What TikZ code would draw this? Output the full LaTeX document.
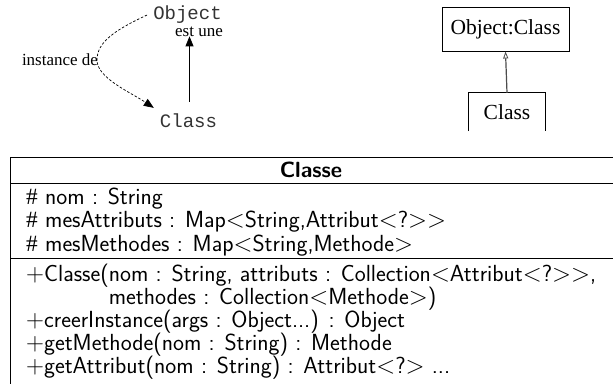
\documentclass[tikz,border=0pt]{standalone}
\usepackage{graphicx}
\usepackage{fontspec}
\setmainfont{Liberation Serif}
\newfontfamily\cour{Liberation Mono}
\usetikzlibrary{arrows.meta}
\tikzset{
  cour/.style={font=\fontsize{19}{22}\cour, text=black!80, inner sep=6pt},
  times/.style={font=\fontsize{17}{20}\selectfont, inner sep=0pt, anchor=base},
  umlbox/.style={draw, line width=0.9pt, font=\fontsize{21.5}{24}\selectfont, inner sep=0pt},
  row/.style={anchor=base west, inner sep=0pt, font=\fontsize{23.3}{27}\sffamily},
  head/.style={anchor=base, inner sep=0pt, font=\fontsize{22}{27}\sffamily\bfseries},
  solidarr/.style={line width=0.8pt, -{Triangle[length=10pt,width=8pt]}},
  dasharr/.style={line width=0.7pt, dash pattern=on 2.5pt off 1.8pt, -{Triangle[length=10pt,width=8pt]}},
  inh/.style={line width=1.2pt, draw=black!70, -{Triangle[open, length=7pt, width=5pt, line width=0.8pt]}},
  tbl/.style={line width=0.8pt}
}
\begin{document}
\begin{tikzpicture}[x=1pt,y=-1pt]
\useasboundingbox (0,0) rectangle (613,383);
% top left
\node[cour] (obj) at (187.5,15) {Object};
\node[cour] (cls) at (188.5,121) {Class};
\node[times] (estune) at (199,36) {est une};
\node[times] (inst) at (60,65) {instance de};
\draw[solidarr, shorten <=6pt] ([xshift=1pt]cls.north) -- ([xshift=1pt]cls.north |- estune.south);
\draw[dasharr] (obj.west) .. controls (115,30) and (97,42) .. (97,60) .. controls (97,78) and (130,92) .. (cls.north west);
% top right
\node[umlbox, minimum width=127pt, minimum height=44pt] (oc) at (505.5,29) {Object:Class};
\node[inner sep=0pt, font=\fontsize{21.5}{24}\selectfont, minimum width=76pt, minimum height=38pt] (cl) at (507,112) {Class};
\draw[line width=0.9pt] (cl.south west) -- (cl.north west) -- (cl.north east) -- (cl.south east);
\draw[inh] (cl.north) -- (oc.south);
% table
\coordinate (tl) at (10,157);
\coordinate (br) at (616,392);
\draw[tbl] (tl) rectangle (br);
\draw[tbl] (10,183) -- (616,183);
\draw[tbl] (10,258) -- (616,258);
\node[head] (h) at (311,177.5) {Classe};
\node[row] (a1) at (26,204) {$\#$ nom : String};
\node[row] (a2) at (26,227.5) {$\#$ mesAttributs : Map$<$String,Attribut$<$?$>$$>$};
\node[row] (a3) at (26,251) {$\#$ mesMethodes : Map$<$String,Methode$>$};
\node[row] (m1) at (26,281) {$+$Classe(nom : String, attributs : Collection$<$Attribut$<$?$>$$>$,};
\node[row] (m2) at (26,304) {\hphantom{$+$Classe(}methodes : Collection$<$Methode$>$)};
\node[row] (m3) at (26,327) {$+$creerInstance(args : Object...) : Object};
\node[row] (m4) at (26,350) {$+$getMethode(nom : String) : Methode};
\node[row] (m5) at (26,373) {$+$getAttribut(nom : String) : Attribut$<$?$>$ ...};
\end{tikzpicture}
\end{document}
